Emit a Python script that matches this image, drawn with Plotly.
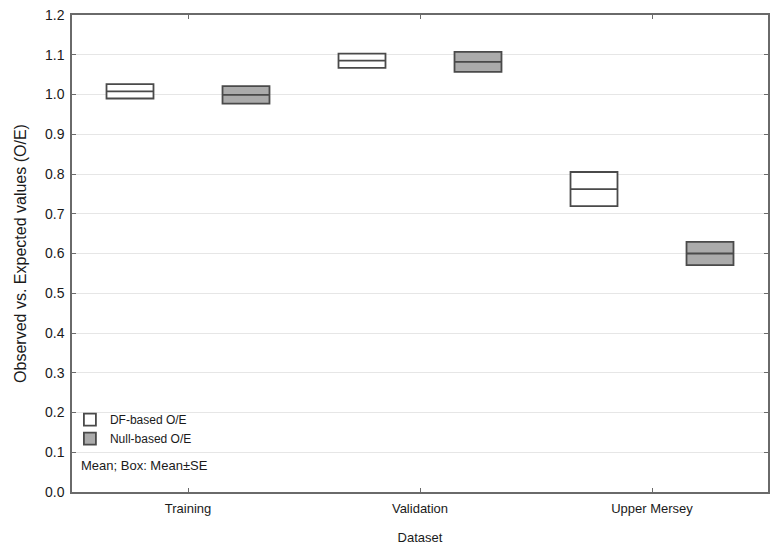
import plotly.graph_objects as go

datasets = ["Training", "Validation", "Upper Mersey"]
df_mean = [1.008, 1.085, 0.762]
df_se = [0.018, 0.018, 0.043]
null_mean = [0.999, 1.082, 0.600]
null_se = [0.022, 0.025, 0.029]

y_ticks = [0.0, 0.1, 0.2, 0.3, 0.4, 0.5, 0.6, 0.7, 0.8, 0.9, 1.0, 1.1, 1.2]


def box_trace(name, means, ses, fill):
    lo = [m - s for m, s in zip(means, ses)]
    hi = [m + s for m, s in zip(means, ses)]
    return go.Box(
        name=name,
        x=datasets,
        q1=lo, median=means, q3=hi,
        lowerfence=lo, upperfence=hi,
        fillcolor=fill,
        line=dict(color="#4a4a4a", width=1.8),
        whiskerwidth=0,
        boxpoints=False,
        hoverinfo="skip",
    )


fig = go.Figure()
fig.add_trace(box_trace("DF-based O/E", df_mean, df_se, "#ffffff"))
fig.add_trace(box_trace("Null-based O/E", null_mean, null_se, "#ababab"))

axis_common = dict(
    showline=True, linecolor="#6a6a6a", linewidth=1.5, mirror="allticks",
    ticks="inside", ticklen=4, tickcolor="#6a6a6a", tickwidth=1,
    tickfont=dict(family="Liberation Sans, Arial", size=14, color="#1a1a1a"),
    zeroline=False, automargin=False,
)

fig.update_layout(
    width=770, height=546,
    margin=dict(l=72, r=2, t=15, b=54),
    paper_bgcolor="white", plot_bgcolor="white",
    boxmode="group", boxgap=0, boxgroupgap=0.595,
    font=dict(family="Liberation Sans, Arial", size=13, color="#1a1a1a"),
    xaxis=dict(
        axis_common,
        type="category",
        categoryorder="array", categoryarray=datasets,
        range=[-0.5, 2.5],
        showgrid=False,
        ticklabelstandoff=4,
        tickfont=dict(family="Liberation Sans, Arial", size=13, color="#1a1a1a"),
        title=dict(text="Dataset", font=dict(size=13), standoff=18),
    ),
    yaxis=dict(
        axis_common,
        range=[0, 1.2],
        tickvals=y_ticks,
        tickformat=".1f",
        ticklabelstandoff=3,
        showgrid=True, gridcolor="#e6e6e6", gridwidth=1,
        title=dict(text="Observed vs. Expected values (O/E)", font=dict(size=16), standoff=14),
    ),
    legend=dict(
        x=-0.003, y=0.182, xanchor="left", yanchor="top",
        bgcolor="rgba(0,0,0,0)", borderwidth=0,
        font=dict(size=12, color="#1a1a1a"),
        itemwidth=30, tracegroupgap=0,
    ),
    showlegend=True,
    annotations=[
        dict(
            text="Mean; Box: Mean±SE", xref="paper", yref="paper",
            x=0.01, y=0.055, xanchor="left", yanchor="middle",
            showarrow=False, font=dict(size=13, color="#1a1a1a"),
        )
    ],
)

fig.write_html(
    "out.html",
    config={"displayModeBar": False},
    post_script="document.body.style.margin='0';document.body.style.overflow='hidden';",
)
